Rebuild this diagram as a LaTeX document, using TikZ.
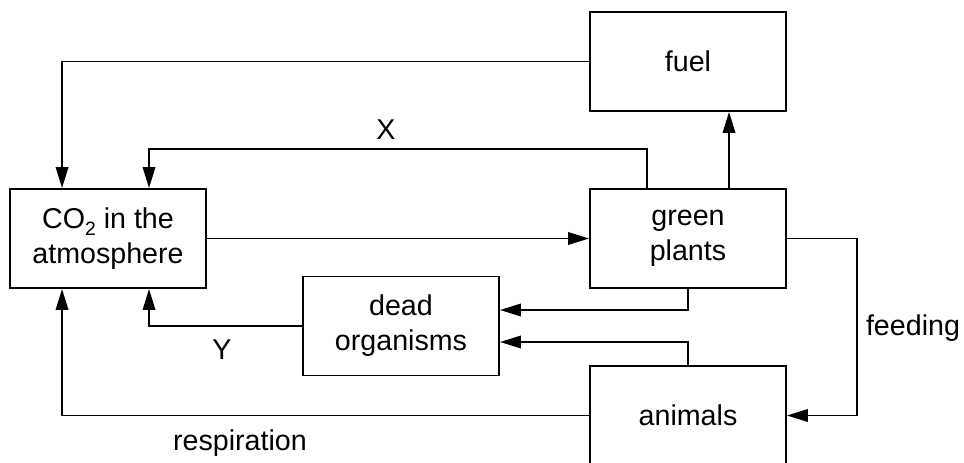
\documentclass[tikz,border=0pt]{standalone}
\usepackage{fontspec}
\setmainfont{Liberation Sans}
\usetikzlibrary{arrows.meta}

\begin{document}
\begin{tikzpicture}[x=0.02cm,y=-0.02cm,
  box/.style={draw,line width=1.1pt,minimum width=3.92cm,minimum height=1.98cm,inner sep=0pt,align=center,font=\fontsize{16.3}{20}\selectfont},
  arr/.style={line width=1.1pt,-{Triangle[length=0.42cm,width=0.25cm]}},
  lbl/.style={font=\fontsize{16.3}{20}\selectfont}]
\clip (0,0) rectangle (964,463);
\node[box] (co2) at (108,238.5) {CO\raisebox{-0.5ex}{\fontsize{11}{11}\selectfont 2} in the\\atmosphere};
\node[box] (fuel) at (688,61.5) {fuel};
\node[box] (plants) at (688,238.5) {green\\plants};
\node[box] (dead) at (401,326) {dead\\organisms};
\node[box] (animals) at (688,415.5) {animals};
\draw[arr] (fuel.west) -| ([xshift=1.06cm]co2.north west);
\draw[arr] ([xshift=1.16cm]plants.north west) -- ++(0,-39) -| ([xshift=2.8cm]co2.north west);
\draw[arr] ([xshift=2.8cm]plants.north west) coordinate (p) -- (p |- fuel.south);
\draw[arr] (co2.east) -- (plants.west);
\draw[arr] (plants.south) |- ([yshift=0.32cm]dead.east);
\draw[arr] (animals.north) |- ([yshift=-0.32cm]dead.east);
\draw[arr] (dead.west) -| ([xshift=2.8cm]co2.south west);
\draw[arr] (animals.west) -| ([xshift=1.06cm]co2.south west);
\draw[arr] (plants.east) -- ++(70,0) |- (animals.east);
\node[lbl] (x) at (386,130) {X};
\node[lbl] (y) at (222,350) {Y};
\node[lbl] (resp) at (240,443) {respiration};
\node[lbl] (feed) at (913,328) {feeding};
\end{tikzpicture}
\end{document}
